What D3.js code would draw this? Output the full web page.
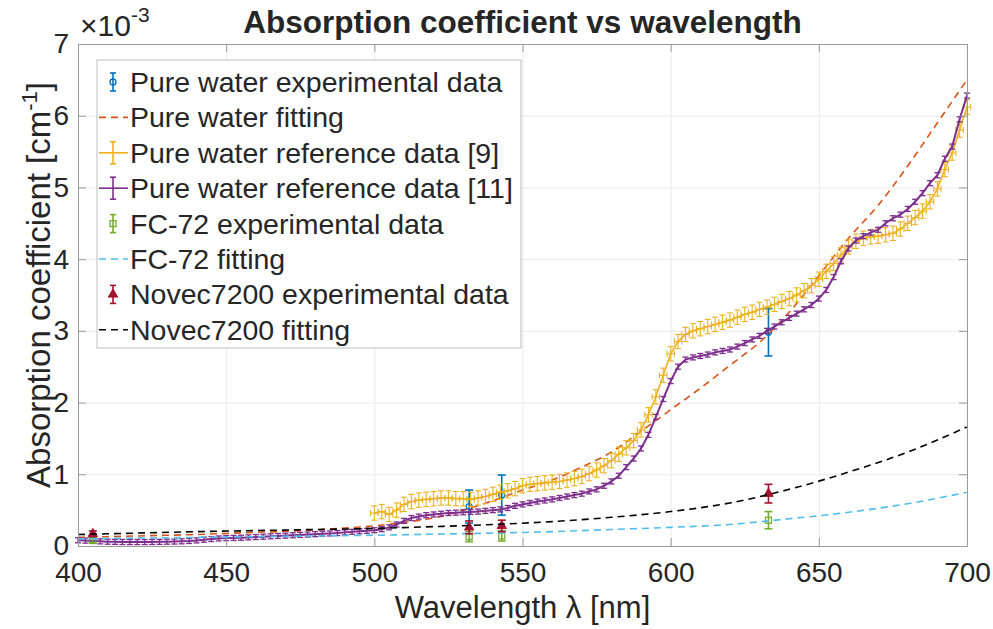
<!DOCTYPE html>
<html>
<head>
<meta charset="utf-8">
<script src="https://cdnjs.cloudflare.com/ajax/libs/d3/7.8.5/d3.min.js"></script>
<style>
body { margin: 0; background: #fff; }
text { font-family: "Liberation Sans", Arial, sans-serif; fill: #262626; }
</style>
</head>
<body>
<div id="chart-area"></div>
<script>
// axis ticks
var xTicks = [400, 450, 500, 550, 600, 650, 700];
var yTicks = [0, 1, 2, 3, 4, 5, 6, 7];

// experimental points: [wavelength nm, value x1e-3, error]
var waterExp = [[405, 0.10, 0.03], [532, 0.55, 0.23], [543, 0.71, 0.28], [633, 2.98, 0.33]];
var fc72Exp = [[405, 0.08, 0.04], [532, 0.13, 0.07], [543, 0.14, 0.07], [633, 0.36, 0.12]];
var novecExp = [[405, 0.17, 0.04], [532, 0.26, 0.09], [543, 0.28, 0.08], [633, 0.73, 0.13]];

// fitting curves: [wavelength, value]
var waterFit = [[400, 0.12], [410, 0.13], [420, 0.14], [430, 0.15], [440, 0.16], [450, 0.175], [460, 0.19],
    [470, 0.205], [480, 0.225], [490, 0.25], [500, 0.28], [510, 0.33], [520, 0.39], [530, 0.5], [540, 0.63],
    [550, 0.78], [560, 0.92], [570, 1.1], [580, 1.31], [590, 1.6], [600, 1.9], [610, 2.2], [620, 2.52],
    [630, 2.84], [640, 3.26], [650, 3.77], [660, 4.29], [670, 4.75], [680, 5.3], [690, 5.9], [700, 6.5]];
var fc72Fit = [[400, 0.10], [420, 0.11], [440, 0.12], [460, 0.13], [480, 0.14], [500, 0.15], [520, 0.165],
    [540, 0.18], [560, 0.2], [580, 0.23], [600, 0.26], [620, 0.3], [640, 0.38], [660, 0.47], [680, 0.59], [700, 0.75]];
var novecFit = [[400, 0.16], [420, 0.18], [440, 0.2], [460, 0.215], [480, 0.23], [500, 0.245], [520, 0.27],
    [540, 0.3], [560, 0.34], [580, 0.4], [600, 0.48], [620, 0.6], [640, 0.79], [660, 1.03], [680, 1.31], [700, 1.66]];

// reference data [9]
var ref9 = [[500, 0.46], [502.5, 0.48], [505, 0.44], [507.5, 0.5], [510, 0.58], [512.5, 0.62], [515, 0.64],
    [517.5, 0.65], [520, 0.66], [522.5, 0.67], [525, 0.67], [527.5, 0.66], [530, 0.66], [532.5, 0.65],
    [535, 0.67], [537.5, 0.69], [540, 0.72], [542.5, 0.75], [545, 0.77], [547.5, 0.8], [550, 0.84],
    [552.5, 0.86], [555, 0.87], [557.5, 0.88], [560, 0.89], [562.5, 0.9], [565, 0.92], [567.5, 0.94],
    [570, 0.97], [572.5, 1.01], [575, 1.06], [577.5, 1.12], [580, 1.19], [582.5, 1.28], [585, 1.37],
    [587.5, 1.47], [590, 1.62], [592.5, 1.83], [595, 2.08], [597.5, 2.38], [600, 2.68], [602.5, 2.85],
    [605, 2.95], [607.5, 3.0], [610, 3.03], [612.5, 3.06], [615, 3.09], [617.5, 3.12], [620, 3.15],
    [622.5, 3.19], [625, 3.23], [627.5, 3.26], [630, 3.3], [632.5, 3.33], [635, 3.37], [637.5, 3.41],
    [640, 3.45], [642.5, 3.5], [645, 3.56], [647.5, 3.63], [650, 3.72], [652.5, 3.83], [655, 3.94],
    [657.5, 4.06], [660, 4.17], [662.5, 4.25], [665, 4.29], [667.5, 4.31], [670, 4.32], [672.5, 4.34],
    [675, 4.36], [677.5, 4.42], [680, 4.5], [682.5, 4.58], [685, 4.67], [687.5, 4.8], [690, 4.98],
    [692.5, 5.25], [695, 5.48], [697.5, 5.8], [700, 6.12]];
var ref9Err = 0.1, ref9XErr = 1.25;

// reference data [11]
var ref11 = [[400, 0.08], [402.5, 0.075], [405, 0.07], [407.5, 0.065], [410, 0.06], [412.5, 0.058],
    [415, 0.056], [417.5, 0.055], [420, 0.055], [422.5, 0.055], [425, 0.056], [427.5, 0.058], [430, 0.06],
    [432.5, 0.062], [435, 0.065], [437.5, 0.07], [440, 0.078], [442.5, 0.088], [445, 0.097], [447.5, 0.105],
    [450, 0.11], [452.5, 0.112], [455, 0.115], [457.5, 0.12], [460, 0.125], [462.5, 0.13], [465, 0.135],
    [467.5, 0.14], [470, 0.145], [472.5, 0.15], [475, 0.155], [477.5, 0.16], [480, 0.165], [482.5, 0.17],
    [485, 0.175], [487.5, 0.18], [490, 0.19], [492.5, 0.198], [495, 0.205], [497.5, 0.212], [500, 0.22],
    [502.5, 0.235], [505, 0.26], [507.5, 0.3], [510, 0.35], [512.5, 0.39], [515, 0.41], [517.5, 0.43],
    [520, 0.44], [522.5, 0.45], [525, 0.46], [527.5, 0.465], [530, 0.47], [532.5, 0.475], [535, 0.48],
    [537.5, 0.49], [540, 0.5], [542.5, 0.51], [545, 0.53], [547.5, 0.56], [550, 0.58], [552.5, 0.6],
    [555, 0.62], [557.5, 0.635], [560, 0.65], [562.5, 0.67], [565, 0.69], [567.5, 0.71], [570, 0.73],
    [572.5, 0.76], [575, 0.79], [577.5, 0.84], [580, 0.9], [582.5, 0.98], [585, 1.1], [587.5, 1.22],
    [590, 1.36], [592.5, 1.55], [595, 1.8], [597.5, 2.05], [600, 2.3], [602.5, 2.5], [605, 2.6],
    [607.5, 2.63], [610, 2.65], [612.5, 2.67], [615, 2.7], [617.5, 2.72], [620, 2.74], [622.5, 2.78],
    [625, 2.83], [627.5, 2.88], [630, 2.93], [632.5, 3.0], [635, 3.06], [637.5, 3.12], [640, 3.18],
    [642.5, 3.24], [645, 3.3], [647.5, 3.36], [650, 3.45], [652.5, 3.57], [655, 3.75], [657.5, 3.97],
    [660, 4.15], [662.5, 4.26], [665, 4.32], [667.5, 4.37], [670, 4.41], [672.5, 4.5], [675, 4.57],
    [677.5, 4.62], [680, 4.7], [682.5, 4.8], [685, 4.92], [687.5, 5.06], [690, 5.17], [692.5, 5.4],
    [695, 5.57], [697.5, 5.95], [700, 6.28]];
var ref11Err = 0.035;

var legendLabels = ["Pure water experimental data", "Pure water fitting", "Pure water reference data [9]",
    "Pure water reference data [11]", "FC-72 experimental data", "FC-72 fitting",
    "Novec7200 experimental data", "Novec7200 fitting"];

var colors = {
    water: "#0072BD", waterFit: "#D95319", ref9: "#EDB120", ref11: "#7E2F8E",
    fc72: "#77AC30", fc72Fit: "#4DBEEE", novec: "#A2142F", novecFit: "#000000"
};

var margin = { top: 44, right: 26, bottom: 83, left: 78 },
    width = 993 - margin.left - margin.right,
    height = 629 - margin.top - margin.bottom;

var root = d3.select("#chart-area")
    .append("svg")
    .attr("width", 993)
    .attr("height", 629);

var svg = root.append("g")
    .attr("transform", "translate(" + margin.left + "," + margin.top + ")");

var x = d3.scaleLinear().domain([400, 700]).range([0, width]);
var y = d3.scaleLinear().domain([0, 7]).range([height, 0]);

// grid
var gridX = svg.append("g")
    .attr("transform", "translate(0," + height + ")")
    .call(d3.axisBottom(x).tickValues(xTicks).tickSize(-height).tickFormat(""));
var gridY = svg.append("g")
    .call(d3.axisLeft(y).tickValues(yTicks).tickSize(-width).tickFormat(""));
[gridX, gridY].forEach(function(g) {
    g.selectAll("line").attr("stroke", "#ebebeb");
    g.select(".domain").remove();
});

var line = d3.line()
    .x(function(d) { return x(d[0]); })
    .y(function(d) { return y(d[1]); });
var smooth = d3.line()
    .x(function(d) { return x(d[0]); })
    .y(function(d) { return y(d[1]); })
    .curve(d3.curveMonotoneX);

function vBars(g, data, color, errOf, cap, sw) {
    var bars = g.append("g").attr("stroke", color).attr("stroke-width", sw).attr("fill", "none");
    data.forEach(function(d) {
        var e = errOf(d), cx = x(d[0]);
        var y1 = y(d[1] - e), y2 = y(d[1] + e);
        bars.append("line").attr("x1", cx).attr("x2", cx).attr("y1", y1).attr("y2", y2);
        bars.append("line").attr("x1", cx - cap).attr("x2", cx + cap).attr("y1", y1).attr("y2", y1);
        bars.append("line").attr("x1", cx - cap).attr("x2", cx + cap).attr("y1", y2).attr("y2", y2);
    });
}

function hBars(g, data, color, xe, cap, sw) {
    var bars = g.append("g").attr("stroke", color).attr("stroke-width", sw).attr("fill", "none");
    data.forEach(function(d) {
        var cy = y(d[1]), x1 = x(d[0] - xe), x2 = x(d[0] + xe);
        bars.append("line").attr("x1", x1).attr("x2", x2).attr("y1", cy).attr("y2", cy);
        bars.append("line").attr("x1", x1).attr("x2", x1).attr("y1", cy - cap).attr("y2", cy + cap);
        bars.append("line").attr("x1", x2).attr("x2", x2).attr("y1", cy - cap).attr("y2", cy + cap);
    });
}

function marker(g, type, cx, cy, color) {
    if (type === "circle") {
        g.append("circle").attr("cx", cx).attr("cy", cy).attr("r", 3)
            .attr("fill", "none").attr("stroke", color).attr("stroke-width", 1.3);
    } else if (type === "square") {
        g.append("rect").attr("x", cx - 3).attr("y", cy - 3).attr("width", 6).attr("height", 6)
            .attr("fill", "none").attr("stroke", color).attr("stroke-width", 1.3);
    } else {
        g.append("path").attr("d", d3.symbol(d3.symbolTriangle).size(38)())
            .attr("transform", "translate(" + cx + "," + cy + ")")
            .attr("fill", color).attr("stroke", color);
    }
}

var plot = svg.append("g");

function expSeries(data, color, type) {
    var g = plot.append("g");
    vBars(g, data, color, function(d) { return d[2]; }, 4, 1.6);
    data.forEach(function(d) { marker(g, type, x(d[0]), y(d[1]), color); });
}

function fitSeries(data, color) {
    plot.append("path")
        .datum(data)
        .attr("d", smooth)
        .attr("fill", "none")
        .attr("stroke", color)
        .attr("stroke-width", 1.6)
        .attr("stroke-dasharray", "7,5");
}

// pure water experimental
expSeries(waterExp, colors.water, "circle");
// pure water fitting
fitSeries(waterFit, colors.waterFit);

// reference [9]
var g9 = plot.append("g");
g9.append("path").datum(ref9).attr("d", line).attr("fill", "none")
    .attr("stroke", colors.ref9).attr("stroke-width", 1.6);
vBars(g9, ref9, colors.ref9, function() { return ref9Err; }, 3, 1.1);
hBars(g9, ref9, colors.ref9, ref9XErr, 3, 1.1);

// reference [11]
var g11 = plot.append("g");
g11.append("path").datum(ref11).attr("d", line).attr("fill", "none")
    .attr("stroke", colors.ref11).attr("stroke-width", 2);
vBars(g11, ref11, colors.ref11, function() { return ref11Err; }, 3, 1.3);

// FC-72
expSeries(fc72Exp, colors.fc72, "square");
fitSeries(fc72Fit, colors.fc72Fit);

// Novec7200
expSeries(novecExp, colors.novec, "triangle");
fitSeries(novecFit, colors.novecFit);

// axes box with inward ticks
var boxColor = "#9a9a9a";
var xAxis = svg.append("g")
    .attr("class", "axis")
    .attr("transform", "translate(0," + height + ")")
    .call(d3.axisBottom(x).tickValues(xTicks).tickSizeInner(-8).tickSizeOuter(0).tickPadding(16));
var yAxis = svg.append("g")
    .attr("class", "axis")
    .call(d3.axisLeft(y).tickValues(yTicks).tickFormat(d3.format("d"))
        .tickSizeInner(-8).tickSizeOuter(0).tickPadding(9));
svg.append("g")
    .attr("class", "axis")
    .call(d3.axisTop(x).tickValues(xTicks).tickSizeInner(-8).tickSizeOuter(0).tickFormat(""));
svg.append("g")
    .attr("class", "axis")
    .attr("transform", "translate(" + width + ",0)")
    .call(d3.axisRight(y).tickValues(yTicks).tickSizeInner(-8).tickSizeOuter(0).tickFormat(""));
svg.selectAll(".axis .domain, .axis .tick line").attr("stroke", boxColor);
xAxis.selectAll("text").style("font-size", "28px").attr("fill", "#262626");
yAxis.selectAll("text").style("font-size", "28px").attr("fill", "#262626");

// exponent
var expo = svg.append("text")
    .attr("x", 2)
    .attr("y", -8)
    .style("font-size", "30px");
expo.append("tspan").text("\u00d710");
expo.append("tspan").attr("dy", -14).style("font-size", "21px").text("-3");

// title
svg.append("text")
    .attr("x", width / 2)
    .attr("y", -11)
    .attr("text-anchor", "middle")
    .style("font-size", "31.5px")
    .style("font-weight", "bold")
    .attr("fill", "#000")
    .text("Absorption coefficient vs wavelength");

// axis labels
svg.append("text")
    .attr("x", width / 2)
    .attr("y", height + 72)
    .attr("text-anchor", "middle")
    .style("font-size", "31px")
    .text("Wavelength \u03bb [nm]");

var yl = svg.append("text")
    .attr("transform", "rotate(-90)")
    .attr("x", -241)
    .attr("y", -28)
    .attr("text-anchor", "middle")
    .style("font-size", "33px");
yl.append("tspan").text("Absorption coefficient [cm");
yl.append("tspan").attr("dy", -13).style("font-size", "22px").text("-1");
yl.append("tspan").attr("dy", 13).text("]");

// legend
var legend = svg.append("g").attr("transform", "translate(19,16)");
legend.append("rect")
    .attr("width", 424)
    .attr("height", 288)
    .attr("fill", "#fff")
    .attr("stroke", "#bdbdbd")
    .attr("stroke-width", 1);

var legendItems = [
    { kind: "exp", color: colors.water, marker: "circle" },
    { kind: "fit", color: colors.waterFit },
    { kind: "ref", color: colors.ref9 },
    { kind: "ref", color: colors.ref11 },
    { kind: "exp", color: colors.fc72, marker: "square" },
    { kind: "fit", color: colors.fc72Fit },
    { kind: "exp", color: colors.novec, marker: "triangle" },
    { kind: "fit", color: colors.novecFit }
];

legendItems.forEach(function(item, i) {
    var cy = 22 + i * 35.4;
    var row = legend.append("g");
    var gx0 = 2, gx1 = 31, gc = 16;
    if (item.kind === "fit") {
        row.append("line").attr("x1", gx0).attr("x2", gx1).attr("y1", cy).attr("y2", cy)
            .attr("stroke", item.color).attr("stroke-width", 1.6).attr("stroke-dasharray", "7,5");
    } else if (item.kind === "ref") {
        row.append("line").attr("x1", gx0).attr("x2", gx1).attr("y1", cy).attr("y2", cy)
            .attr("stroke", item.color).attr("stroke-width", 1.6);
        row.append("line").attr("x1", gc).attr("x2", gc).attr("y1", cy - 11).attr("y2", cy + 11)
            .attr("stroke", item.color).attr("stroke-width", 1.6);
        row.append("line").attr("x1", gc - 3).attr("x2", gc + 3).attr("y1", cy - 11).attr("y2", cy - 11)
            .attr("stroke", item.color).attr("stroke-width", 1.6);
        row.append("line").attr("x1", gc - 3).attr("x2", gc + 3).attr("y1", cy + 11).attr("y2", cy + 11)
            .attr("stroke", item.color).attr("stroke-width", 1.6);
    } else {
        row.append("line").attr("x1", gc).attr("x2", gc).attr("y1", cy - 9).attr("y2", cy + 9)
            .attr("stroke", item.color).attr("stroke-width", 1.6);
        row.append("line").attr("x1", gc - 3).attr("x2", gc + 3).attr("y1", cy - 9).attr("y2", cy - 9)
            .attr("stroke", item.color).attr("stroke-width", 1.6);
        row.append("line").attr("x1", gc - 3).attr("x2", gc + 3).attr("y1", cy + 9).attr("y2", cy + 9)
            .attr("stroke", item.color).attr("stroke-width", 1.6);
        marker(row, item.marker, gc, cy, item.color);
    }
    row.append("text")
        .attr("x", 33)
        .attr("y", cy)
        .attr("dy", "0.35em")
        .style("font-size", "28.5px")
        .attr("fill", "#000")
        .text(legendLabels[i]);
});
</script>
</body>
</html>
